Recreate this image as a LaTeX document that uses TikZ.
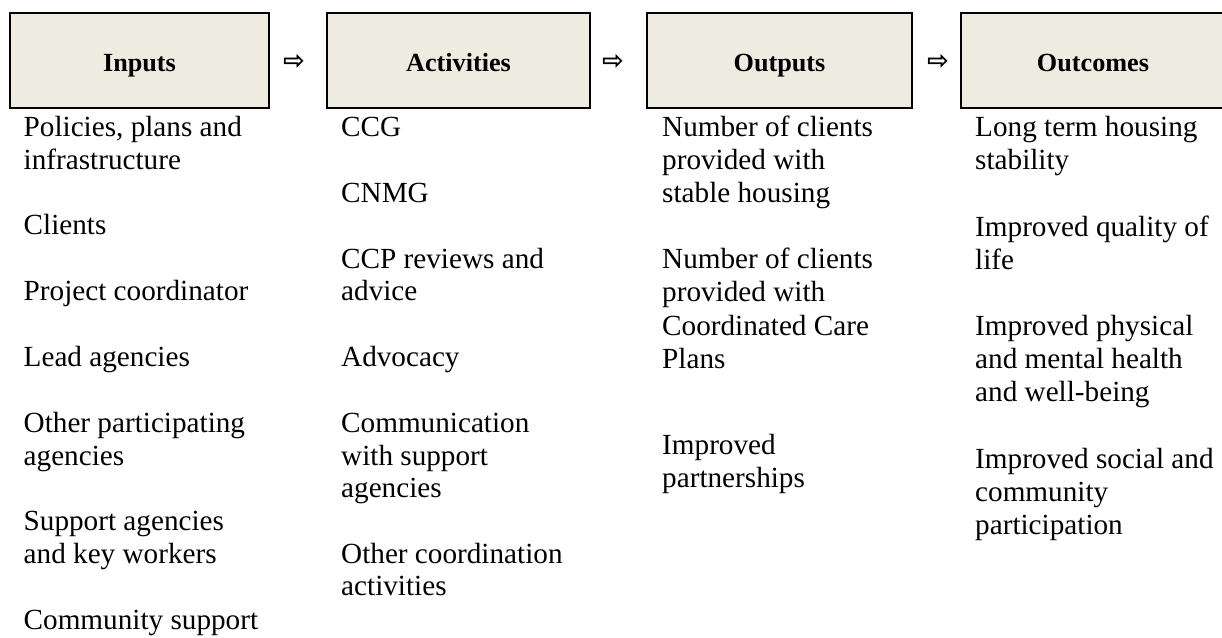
\documentclass[tikz,border=0pt]{standalone}
\usepackage{fontspec}
\setmainfont{Liberation Serif}
\newfontfamily\arrowfont{DejaVu Sans Bold}
\definecolor{stagefill}{HTML}{EEECE1}
% multi-line item whose baseline is that of its first line
\newcommand\itemlines[2]{\vtop{\baselineskip=#1\lineskiplimit=-100pt\lineskip=0pt\halign{##\hfil\cr#2\crcr}}}
\begin{document}
\begin{tikzpicture}[x=1pt,y=-1pt,
  stage/.style={draw=black, line width=2pt, fill=stagefill, inner sep=0pt,
    minimum height=95pt, text height=21.4pt, text depth=0pt,
    font=\fontsize{26.2}{30}\selectfont\bfseries},
  flow/.style={inner sep=0pt, font=\arrowfont\fontsize{26}{28}\selectfont},
  entry/.style={anchor=base west, inner sep=0pt, font=\fontsize{29.2}{33}\selectfont}]
\useasboundingbox (0,0) rectangle (1222,637);
\clip (0,0) rectangle (1222,637);

% stage headings
\node[stage, minimum width=259pt] (inputs)     at (139.5,60.8) {Inputs};
\node[stage, minimum width=263pt] (activities) at (458.5,60.8) {Activities};
\node[stage, minimum width=265pt] (outputs)    at (779.5,60.8) {Outputs};
\node[stage, minimum width=264pt] (outcomes)   at (1093,60.8) {Outcomes};

% arrows between stages
\node[flow] (a1) at (294,62) {⇨};
\node[flow] (a2) at (613,62) {⇨};
\node[flow] (a3) at (938,62) {⇨};

% inputs
\node[entry] (in1) at (23.5,136)   {\itemlines{33pt}{Policies, plans and\cr infrastructure}};
\node[entry] (in2) at (23.5,234.7) {Clients};
\node[entry] (in3) at (23.5,300.5) {Project coordinator};
\node[entry] (in4) at (23.5,366.3) {Lead agencies};
\node[entry] (in5) at (23.5,432.1) {\itemlines{33pt}{Other participating\cr agencies}};
\node[entry] (in6) at (23.5,530.8) {\itemlines{33pt}{Support agencies\cr and key workers}};
\node[entry] (in7) at (23.5,629.5) {Community support};

% activities
\node[entry] (ac1) at (341,136)   {CCG};
\node[entry] (ac2) at (341,202.7) {CNMG};
\node[entry] (ac3) at (341,268.3) {\itemlines{32.4pt}{CCP reviews and\cr advice}};
\node[entry] (ac4) at (341,366.7) {Advocacy};
\node[entry] (ac5) at (341,432.7) {\itemlines{32.4pt}{Communication\cr with support\cr agencies}};
\node[entry] (ac6) at (341,563.3) {\itemlines{32.4pt}{Other coordination\cr activities}};

% outputs
\node[entry] (ou1) at (662,136)   {\itemlines{33.4pt}{Number of clients\cr provided with\cr stable housing}};
\node[entry] (ou2) at (662,268.3) {\itemlines{33.4pt}{Number of clients\cr provided with\cr Coordinated Care\cr Plans}};
\node[entry] (ou3) at (662,454)   {\itemlines{33.4pt}{Improved\cr partnerships}};

% outcomes
\node[entry] (oc1) at (975,136)   {\itemlines{33.3pt}{Long term housing\cr stability}};
\node[entry] (oc2) at (975,236)   {\itemlines{33.3pt}{Improved quality of\cr life}};
\node[entry] (oc3) at (975,335)   {\itemlines{33.3pt}{Improved physical\cr and mental health\cr and well-being}};
\node[entry] (oc4) at (975,468.3) {\itemlines{33.3pt}{Improved social and\cr community\cr participation}};
\end{tikzpicture}
\end{document}
